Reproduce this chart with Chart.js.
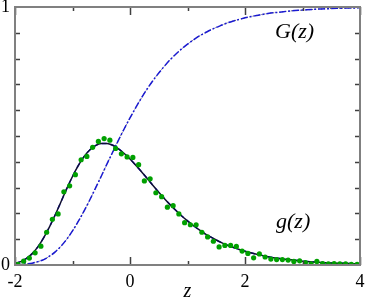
<!DOCTYPE html>
<html>
<head>
<meta charset="utf-8">
<script src="https://cdn.jsdelivr.net/npm/chart.js@4.4.0/dist/chart.umd.min.js"></script>
<style>
  html, body { margin: 0; padding: 0; background: #fff; }
  #wrap { width: 366px; height: 300px; }
</style>
</head>
<body>
<div id="wrap"><canvas id="chart"></canvas></div>
<script>
// curves
const zCurve = [-2, -1.9, -1.8, -1.7, -1.6, -1.5, -1.4, -1.3, -1.2, -1.1, -1, -0.9, -0.8, -0.7, -0.6, -0.5,
  -0.4, -0.3, -0.2, -0.1, 0, 0.1, 0.2, 0.3, 0.4, 0.5, 0.6, 0.7, 0.8, 0.9, 1, 1.1, 1.2, 1.3, 1.4, 1.5,
  1.6, 1.7, 1.8, 1.9, 2, 2.2, 2.4, 2.6, 2.8, 3, 3.2, 3.4, 3.6, 3.8, 4];
const gCurve = [0.006, 0.013, 0.026, 0.044, 0.071, 0.106, 0.148, 0.195, 0.245, 0.296, 0.343, 0.385, 0.420, 0.446, 0.463, 0.471,
  0.471, 0.464, 0.450, 0.432, 0.411, 0.387, 0.361, 0.335, 0.308, 0.282, 0.257, 0.233, 0.211, 0.190, 0.171, 0.153, 0.137, 0.122, 0.109, 0.097,
  0.086, 0.076, 0.068, 0.060, 0.053, 0.042, 0.032, 0.025, 0.020, 0.015, 0.012, 0.009, 0.007, 0.006, 0.004];
const GCurve = [0.001, 0.002, 0.004, 0.007, 0.013, 0.021, 0.034, 0.051, 0.073, 0.100, 0.132, 0.169, 0.209, 0.252, 0.298, 0.344,
  0.392, 0.438, 0.484, 0.528, 0.570, 0.610, 0.648, 0.683, 0.715, 0.744, 0.771, 0.796, 0.818, 0.838, 0.856, 0.872, 0.887, 0.899, 0.911, 0.921,
  0.930, 0.939, 0.946, 0.952, 0.958, 0.967, 0.975, 0.980, 0.985, 0.988, 0.991, 0.993, 0.995, 0.996, 0.997];

// green sample points
const zPts = [-1.95, -1.85, -1.75, -1.65, -1.55, -1.45, -1.35, -1.25, -1.15, -1.05, -0.95, -0.85, -0.75, -0.65, -0.55,
  -0.45, -0.35, -0.25, -0.15, -0.05, 0.05, 0.15, 0.25, 0.35, 0.45, 0.55, 0.65, 0.75, 0.85, 0.95, 1.05, 1.15, 1.25, 1.35,
  1.45, 1.55, 1.65, 1.75, 1.85, 1.95, 2.05, 2.15, 2.25, 2.35, 2.45, 2.55, 2.65, 2.75, 2.85, 2.95, 3.05, 3.15, 3.25,
  3.35, 3.45, 3.55, 3.65, 3.75, 3.85, 3.95];
const gPts = [0.003, 0.015, 0.027, 0.047, 0.073, 0.127, 0.177, 0.198, 0.284, 0.307, 0.350, 0.408, 0.421, 0.456, 0.479,
  0.490, 0.484, 0.452, 0.431, 0.419, 0.417, 0.389, 0.326, 0.334, 0.280, 0.265, 0.224, 0.230, 0.198, 0.164, 0.156, 0.156, 0.127, 0.109,
  0.092, 0.070, 0.076, 0.076, 0.072, 0.054, 0.045, 0.028, 0.043, 0.031, 0.023, 0.021, 0.021, 0.019, 0.014, 0.016, 0.009, 0.004, 0.014,
  0.005, 0.004, 0.005, 0.004, 0.004, 0.003, 0.003];

const xTickValues = [-2, 0, 2, 4];
const xTickLabels = ['-2', '0', '2', '4'];
const xMinorTicks = [-1, 1, 3];
const yTickValues = [0, 1];
const yTickLabels = ['0', '1'];
const yMinorTicks = [0.1, 0.2, 0.3, 0.4, 0.5, 0.6, 0.7, 0.8, 0.9];

const toXY = (xs, ys) => xs.map((x, i) => ({ x: x, y: ys[i] }));
const serif = "'Times New Roman', 'Liberation Serif', Tinos, 'DejaVu Serif', serif";

// box, inner ticks and curve names
const framePlugin = {
  id: 'frame',
  afterDraw(chart) {
    const ctx = chart.ctx;
    const a = chart.chartArea;
    const xs = chart.scales.x, ys = chart.scales.y;
    ctx.save();
    ctx.strokeStyle = '#404040';
    ctx.lineWidth = 1.5;
    ctx.beginPath();
    xTickValues.forEach(v => {
      const px = Math.round(xs.getPixelForValue(v)) + 0.5;
      ctx.moveTo(px, a.bottom); ctx.lineTo(px, a.bottom - 8);
      ctx.moveTo(px, a.top); ctx.lineTo(px, a.top + 8);
    });
    xMinorTicks.forEach(v => {
      const px = Math.round(xs.getPixelForValue(v)) + 0.5;
      ctx.moveTo(px, a.bottom); ctx.lineTo(px, a.bottom - 4);
      ctx.moveTo(px, a.top); ctx.lineTo(px, a.top + 4);
    });
    yMinorTicks.forEach(v => {
      const py = Math.round(ys.getPixelForValue(v)) + 0.5;
      ctx.moveTo(a.left, py); ctx.lineTo(a.left + 5, py);
      ctx.moveTo(a.right, py); ctx.lineTo(a.right - 5, py);
    });
    ctx.stroke();
    ctx.strokeStyle = '#808080';
    ctx.lineWidth = 2;
    ctx.strokeRect(a.left, a.top, a.right - a.left, a.bottom - a.top);

    ctx.fillStyle = '#000';
    ctx.font = 'italic 22px ' + serif;
    ctx.textBaseline = 'alphabetic';
    ctx.fillText('G(z)', 275, 38);
    ctx.fillText('g(z)', 276, 228);
    ctx.restore();
  }
};

new Chart(document.getElementById('chart'), {
  type: 'scatter',
  data: {
    datasets: [
      {
        data: toXY(zPts, gPts),
        pointRadius: 2.6,
        pointBackgroundColor: '#00a000',
        pointBorderWidth: 0,
        showLine: false
      },
      {
        data: toXY(zCurve, gCurve),
        showLine: true,
        borderColor: '#101030',
        borderWidth: 1.5,
        pointRadius: 0,
        cubicInterpolationMode: 'monotone'
      },
      {
        data: toXY(zCurve, gCurve),
        showLine: true,
        borderColor: '#1a1aff',
        borderWidth: 1.5,
        borderDash: [5, 4],
        pointRadius: 0,
        cubicInterpolationMode: 'monotone'
      },
      {
        data: toXY(zCurve, GCurve),
        showLine: true,
        borderColor: '#1a1ad0',
        borderWidth: 1.5,
        borderDash: [7, 2, 2, 2],
        pointRadius: 0,
        cubicInterpolationMode: 'monotone'
      },
      {
        data: toXY(zCurve, GCurve),
        showLine: true,
        borderColor: '#505060',
        borderWidth: 1,
        borderDash: [1, 2],
        pointRadius: 0,
        cubicInterpolationMode: 'monotone'
      }
    ]
  },
  options: {
    responsive: true,
    maintainAspectRatio: false,
    animation: false,
    layout: { padding: { top: 7, right: 6, left: 0, bottom: 0 } },
    plugins: { legend: { display: false }, tooltip: { enabled: false } },
    scales: {
      x: {
        type: 'linear',
        min: -2,
        max: 4,
        grid: { display: false, drawTicks: false },
        border: { display: false },
        afterBuildTicks: s => { s.ticks = xTickValues.map(v => ({ value: v })); },
        ticks: {
          autoSkip: false,
          maxRotation: 0,
          padding: 6,
          color: '#000',
          font: { family: serif, size: 18 },
          callback: v => xTickLabels[xTickValues.indexOf(v)]
        },
        title: {
          display: true,
          text: 'z',
          color: '#000',
          padding: { top: 0, bottom: -2 },
          font: { family: serif, size: 20, style: 'italic', lineHeight: 1 }
        },
        afterFit: s => { s.height = 35; s.paddingLeft = 0; s.paddingRight = 0; }
      },
      y: {
        type: 'linear',
        min: 0,
        max: 1,
        grid: { display: false, drawTicks: false },
        border: { display: false },
        afterBuildTicks: s => { s.ticks = yTickValues.map(v => ({ value: v })); },
        ticks: {
          padding: 5,
          color: '#000',
          font: { family: serif, size: 18 },
          callback: v => yTickLabels[yTickValues.indexOf(v)]
        },
        afterFit: s => { s.width = 15; s.paddingTop = 0; s.paddingBottom = 0; }
      }
    }
  },
  plugins: [framePlugin]
});
</script>
</body>
</html>
